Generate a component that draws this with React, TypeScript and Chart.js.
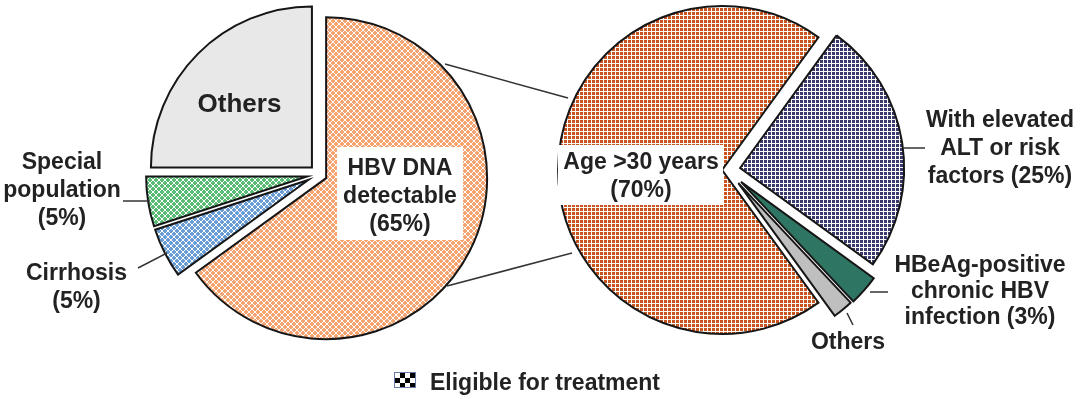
import React, { useEffect, useRef } from 'react';
import { Chart, registerables } from 'chart.js';

Chart.register(...registerables);

// ---- data ----
const leftLabels = ['HBV DNA detectable', 'Cirrhosis', 'Special population', 'Others'];
const leftValues = [65, 5, 5, 25];
const rightLabels = ['Age >30 years', 'With elevated ALT or risk factors', 'HBeAg-positive chronic HBV infection', 'Others'];
const rightValues = [70, 25, 3, 2];
const legendLabel = 'Eligible for treatment';

// label text as displayed (line-broken)
const hbvText = ['HBV DNA', 'detectable', `(${leftValues[0]}%)`];
const cirrText = ['Cirrhosis', `(${leftValues[1]}%)`];
const specText = ['Special', 'population', `(${leftValues[2]}%)`];
const othLText = ['Others'];
const ageText = ['Age >30 years', `(${rightValues[0]}%)`];
const altText = ['With elevated', 'ALT or risk', `factors (${rightValues[1]}%)`];
const hbeText = ['HBeAg-positive', 'chronic HBV', `infection (${rightValues[2]}%)`];
const othRText = ['Others'];

const FONT = '"Liberation Sans", Arial, Helvetica, sans-serif';
const TEXT = '#222';

function plusPattern(color: string): CanvasPattern {
  const c = document.createElement('canvas');
  c.width = 6;
  c.height = 6;
  const x = c.getContext('2d')!;
  x.fillStyle = '#ffffff';
  x.fillRect(0, 0, 6, 6);
  x.fillStyle = color;
  // plus centred in the tile
  x.fillRect(2, 1, 2, 4);
  x.fillRect(1, 2, 4, 2);
  // plus centred on the tile corner (wraps)
  const cx = [[-1, 0], [0, -1], [-1, -1], [0, 0]];
  cx.forEach(([ox, oy]) => {
    x.fillRect(ox * 6 + 5, oy * 6 + 4, 2, 4);
    x.fillRect(ox * 6 + 4, oy * 6 + 5, 4, 2);
  });
  return x.createPattern(c, 'repeat')!;
}

function gridPattern(color: string): CanvasPattern {
  const c = document.createElement('canvas');
  c.width = 4;
  c.height = 4;
  const x = c.getContext('2d')!;
  x.fillStyle = '#ffffff';
  x.fillRect(0, 0, 4, 4);
  x.fillStyle = color;
  x.fillRect(0, 0, 3, 3);
  return x.createPattern(c, 'repeat')!;
}

const explodePlugin = {
  id: 'explode',
  afterDatasetsUpdate(chart: any, _args: any, opts: any) {
    const d: number[] = (opts && opts.distances) || [];
    const meta = chart.getDatasetMeta(0);
    meta.data.forEach((arc: any, i: number) => {
      const mid = (arc.startAngle + arc.endAngle) / 2;
      const e = d[i] || 0;
      arc.x += Math.cos(mid) * e;
      arc.y += Math.sin(mid) * e;
    });
  },
};

function pieOptions(padding: any, rotation: number, radius: number, distances: number[]): any {
  return {
    responsive: false,
    animation: false,
    events: [],
    rotation,
    radius,
    layout: { padding },
    plugins: {
      legend: { display: false },
      tooltip: { enabled: false },
      explode: { distances },
    },
  };
}

type LabelProps = { cx: number; top: number; lines: string[]; size?: number; lh?: number };
const Label = ({ cx, top, lines, size = 23, lh = 28 }: LabelProps) => (
  <div
    style={{
      position: 'absolute',
      left: cx - 150,
      width: 300,
      top,
      textAlign: 'center',
      font: `bold ${size}px ${FONT}`,
      lineHeight: `${lh}px`,
      color: TEXT,
      whiteSpace: 'nowrap',
    }}
  >
    {lines.map((l, i) => (
      <div key={i}>{l}</div>
    ))}
  </div>
);

const WhiteBox = ({ x, y, w, h }: { x: number; y: number; w: number; h: number }) => (
  <div style={{ position: 'absolute', left: x, top: y, width: w, height: h, background: '#fff' }} />
);

export default function App() {
  const leftRef = useRef<HTMLCanvasElement>(null);
  const rightRef = useRef<HTMLCanvasElement>(null);

  useEffect(() => {
    const left = new Chart(leftRef.current!, {
      type: 'pie',
      data: {
        labels: leftLabels,
        datasets: [
          {
            data: leftValues,
            backgroundColor: [plusPattern('#F4A470'), plusPattern('#6A9DD4'), plusPattern('#5ABB74'), '#E8E8E8'],
            borderColor: '#161616',
            borderWidth: 2,
            borderJoinStyle: 'miter',
            radius: 161,
            rotation: 0,
          } as any,
        ],
      },
      options: pieOptions({ left: 0, right: 442, top: 0, bottom: 50 }, 0, 161, [8, 12, 12, 10]),
      plugins: [explodePlugin],
    } as any);

    const right = new Chart(rightRef.current!, {
      type: 'pie',
      data: {
        labels: rightLabels,
        datasets: [
          {
            data: rightValues,
            backgroundColor: [gridPattern('#C8541E'), gridPattern('#3B3A6C'), '#2E7563', '#BFBFBF'],
            borderColor: '#161616',
            borderWidth: 2,
            borderJoinStyle: 'miter',
            radius: 164,
            rotation: 144,
          } as any,
        ],
      },
      options: pieOptions({ left: 375, right: 0, top: 0, bottom: 59 }, 144, 164, [5.4, 12.8, 18, 17]),
      plugins: [explodePlugin],
    } as any);

    return () => {
      left.destroy();
      right.destroy();
    };
  }, []);

  const lineStyle = { stroke: '#333', strokeWidth: 1.5 };

  return (
    <div
      style={{
        position: 'absolute',
        left: 0,
        top: 0,
        width: 1080,
        height: 399,
        overflow: 'hidden',
        background: '#fff',
      }}
    >
      <canvas ref={leftRef} width={1080} height={399} style={{ position: 'absolute', left: 0, top: 0 }} />
      <canvas ref={rightRef} width={1080} height={399} style={{ position: 'absolute', left: 0, top: 0 }} />
      <svg width={1080} height={399} style={{ position: 'absolute', left: 0, top: 0 }}>
        <line x1={445} y1={64} x2={568} y2={98} {...lineStyle} />
        <line x1={447} y1={286} x2={572} y2={253} {...lineStyle} />
        <line x1={123} y1={201} x2={150} y2={201} {...lineStyle} />
        <line x1={138} y1={268} x2={167} y2={253} {...lineStyle} />
        <line x1={903} y1={148} x2={925} y2={148} {...lineStyle} />
        <line x1={870} y1={292} x2={888} y2={292} {...lineStyle} />
        <line x1={847} y1={313} x2={853} y2={325} {...lineStyle} />
      </svg>
      <WhiteBox x={337} y={147} w={126} h={93} />
      <WhiteBox x={558} y={145} w={165} h={60} />
      <Label cx={400} top={152.5} lines={hbvText} />
      <Label cx={641} top={146.5} lines={ageText} />
      <Label cx={239.5} top={87.6} lines={othLText} size={26} lh={30} />
      <Label cx={62} top={146.5} lines={specText} />
      <Label cx={76.5} top={257.5} lines={cirrText} />
      <Label cx={1000} top={104.5} lines={altText} />
      <Label cx={980} top={250.5} lines={hbeText} lh={26} />
      <Label cx={848} top={326.5} lines={othRText} />
      <div
        style={{
          position: 'absolute',
          left: 394,
          top: 372,
          width: 22,
          height: 16,
          boxSizing: 'border-box',
          border: '1px solid #6a7ba8',
          background: 'repeating-conic-gradient(#000 0 25%, #fff 0 50%) 0 0 / 10px 10px',
        }}
      />
      <div
        style={{
          position: 'absolute',
          left: 430,
          top: 368,
          font: `bold 23px ${FONT}`,
          lineHeight: '28px',
          color: TEXT,
          whiteSpace: 'nowrap',
        }}
      >
        {legendLabel}
      </div>
    </div>
  );
}
